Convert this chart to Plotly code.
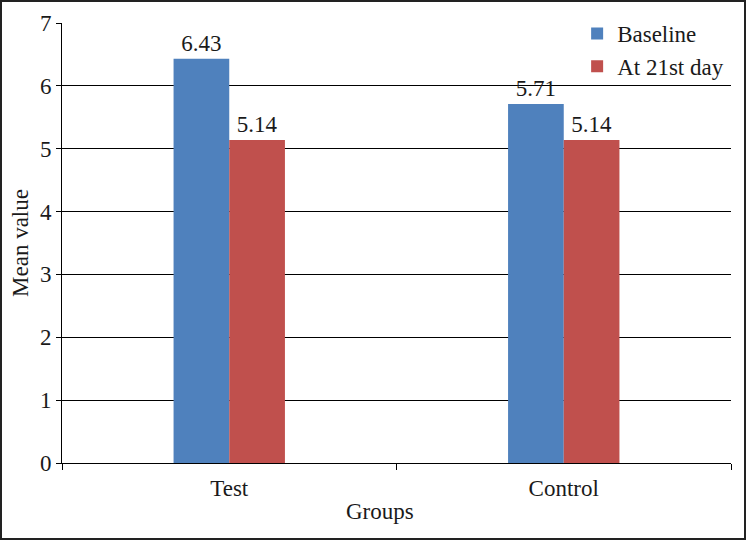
import plotly.graph_objects as go

categories = ["Test", "Control"]
baseline = [6.43, 5.71]
day21 = [5.14, 5.14]
baseline_labels = ["6.43", "5.71"]
day21_labels = ["5.14", "5.14"]
y_ticks = [0, 1, 2, 3, 4, 5, 6, 7]

FONT = "Liberation Serif, Times New Roman, serif"
FS = 23
TXT = "#1a1a1a"
W, H = 746, 540
L, R, T, B = 62, 15, 23, 77
pw, ph = W - L - R, H - T - B

fig = go.Figure()
fig.add_trace(go.Bar(
    x=categories, y=baseline, name="Baseline",
    marker=dict(color="#4F81BD", line=dict(width=0)),
    text=baseline_labels, textposition="outside",
    textfont=dict(family=FONT, size=FS, color=TXT),
    cliponaxis=False,
))
fig.add_trace(go.Bar(
    x=categories, y=day21, name="At 21st day",
    marker=dict(color="#C0504D", line=dict(width=0)),
    text=day21_labels, textposition="outside",
    textfont=dict(family=FONT, size=FS, color=TXT),
    cliponaxis=False,
))

fig.update_layout(
    width=W, height=H,
    margin=dict(l=L, r=R, t=T, b=B, autoexpand=False),
    paper_bgcolor="white", plot_bgcolor="white",
    barmode="group", bargap=0.667, bargroupgap=0,
    font=dict(family=FONT, size=FS, color=TXT),
    showlegend=True,
    legend=dict(
        x=0.77, y=1.025, xanchor="left", yanchor="top",
        bgcolor="rgba(0,0,0,0)", borderwidth=0,
        font=dict(family=FONT, size=FS, color=TXT),
        itemclick=False, tracegroupgap=0,
    ),
    xaxis=dict(
        type="category", range=[-0.5, 1.5],
        showline=True, linecolor="black", linewidth=1,
        ticks="outside", tickson="boundaries", ticklen=6, tickcolor="black",
        showgrid=False, zeroline=False, automargin=False,
        tickfont=dict(family=FONT, size=FS, color=TXT),
        ticklabelstandoff=4,
    ),
    yaxis=dict(
        range=[0, 7], tickvals=y_ticks,
        showline=True, linecolor="black", linewidth=1,
        ticks="outside", ticklen=5, tickcolor="black",
        showgrid=True, gridcolor="black", gridwidth=1,
        zeroline=False, automargin=False,
        tickfont=dict(family=FONT, size=FS, color=TXT),
        title=dict(text="Mean value", font=dict(family=FONT, size=FS, color=TXT), standoff=4),
    ),
)

fig.add_annotation(
    text="Groups", xref="paper", yref="paper",
    x=(380 - L) / pw, y=-(511 - (T + ph)) / ph,
    xanchor="center", yanchor="middle", showarrow=False,
    font=dict(family=FONT, size=FS, color=TXT),
)

# outer border around the whole picture
fig.add_shape(
    type="rect", xref="paper", yref="paper",
    x0=(1 - L) / pw, x1=(W - 1 - L) / pw,
    y0=(T + ph - (H - 1)) / ph, y1=(T + ph - 1) / ph,
    line=dict(color="#222", width=2), fillcolor="rgba(0,0,0,0)", layer="above",
)

fig.write_html(
    "out.html",
    config={"displayModeBar": False},
    post_script="document.body.style.margin='0';document.body.style.padding='0';",
)
